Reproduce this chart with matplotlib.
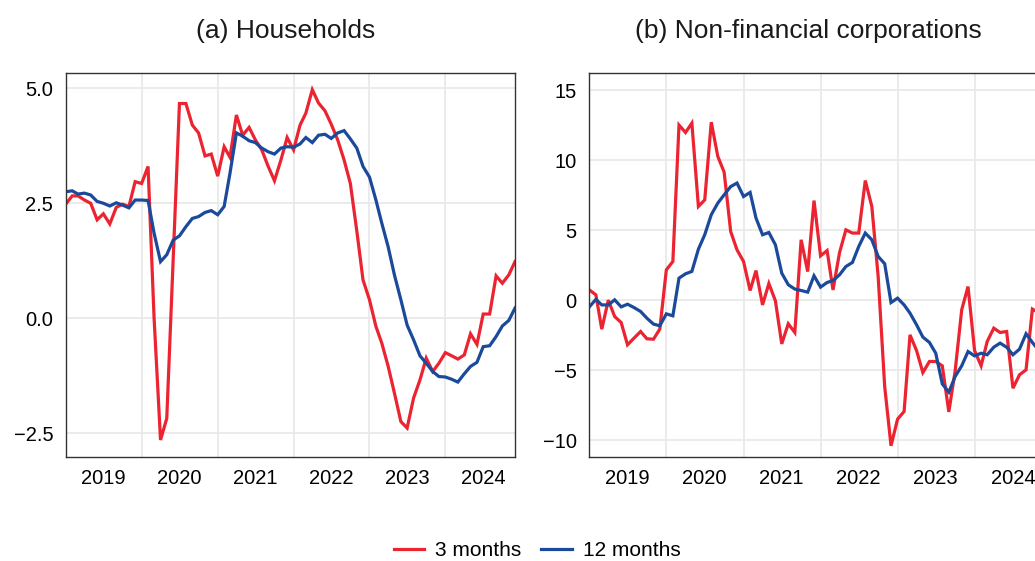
import numpy as np
import pandas as pd
import matplotlib
matplotlib.use("Agg")
import matplotlib.pyplot as plt
import matplotlib.dates as mdates
from matplotlib.ticker import FuncFormatter

plt.rcParams['font.family'] = ['Liberation Sans', 'DejaVu Sans']

# monthly, Jan 2019 - Dec 2024
months = pd.date_range('2019-01-01', periods=72, freq='MS')

hh_3m = [2.48, 2.66, 2.66, 2.57, 2.50, 2.14, 2.27, 2.05, 2.41, 2.48, 2.43, 2.97,
         2.93, 3.30, 0.00, -2.65, -2.18, 1.30, 4.67, 4.67, 4.20, 4.03, 3.53, 3.57,
         3.09, 3.73, 3.50, 4.42, 3.98, 4.15, 3.88, 3.66, 3.30, 2.99, 3.44, 3.93,
         3.66, 4.20, 4.46, 4.97, 4.68, 4.51, 4.22, 3.88, 3.44, 2.93, 1.90, 0.83,
         0.40, -0.18, -0.54, -1.05, -1.63, -2.25, -2.39, -1.74, -1.34, -0.87, -1.16, -0.98,
         -0.75, -0.82, -0.89, -0.80, -0.34, -0.57, 0.09, 0.09, 0.92, 0.76, 0.94, 1.23]
hh_12m = [2.75, 2.77, 2.70, 2.72, 2.68, 2.54, 2.50, 2.44, 2.51, 2.46, 2.40, 2.57,
          2.57, 2.56, 1.85, 1.23, 1.38, 1.70, 1.79, 1.99, 2.17, 2.21, 2.30, 2.34,
          2.25, 2.43, 3.15, 4.03, 3.96, 3.86, 3.82, 3.70, 3.62, 3.57, 3.70, 3.73,
          3.72, 3.79, 3.93, 3.82, 3.98, 4.00, 3.91, 4.03, 4.08, 3.90, 3.70, 3.30,
          3.07, 2.57, 2.07, 1.55, 0.94, 0.40, -0.15, -0.47, -0.82, -0.98, -1.16, -1.27,
          -1.28, -1.33, -1.39, -1.21, -1.05, -0.96, -0.62, -0.60, -0.40, -0.17, -0.05, 0.22]

nfc_3m = [0.73, 0.38, -2.07, 0.00, -1.17, -1.60, -3.19, -2.71, -2.24, -2.76, -2.79, -2.07,
          2.16, 2.76, 12.50, 11.97, 12.64, 6.69, 7.16, 12.71, 10.26, 9.14, 4.90, 3.59,
          2.76, 0.69, 2.11, -0.34, 1.19, -0.05, -3.12, -1.69, -2.31, 4.31, 2.04, 7.11,
          3.16, 3.54, 0.73, 3.40, 5.02, 4.79, 4.79, 8.54, 6.69, 1.69, -6.17, -10.40,
          -8.50, -7.95, -2.48, -3.60, -5.17, -4.38, -4.38, -4.69, -7.98, -5.05, -0.69, 0.97,
          -3.60, -4.69, -2.95, -2.00, -2.31, -2.24, -6.29, -5.33, -4.98, -0.64, -0.90, -1.20]
nfc_12m = [-0.48, 0.05, -0.34, -0.34, 0.02, -0.48, -0.29, -0.53, -0.81, -1.29, -1.71, -1.83,
           -0.98, -1.12, 1.57, 1.88, 2.05, 3.64, 4.67, 6.10, 6.93, 7.52, 8.11, 8.36,
           7.40, 7.69, 5.86, 4.67, 4.83, 3.95, 1.93, 1.10, 0.79, 0.69, 0.57, 1.74,
           0.93, 1.26, 1.40, 1.81, 2.40, 2.69, 3.83, 4.79, 4.31, 3.12, 2.60, -0.17,
           0.14, -0.34, -0.93, -1.76, -2.64, -3.02, -3.79, -5.98, -6.57, -5.45, -4.69, -3.67,
           -3.98, -3.79, -3.90, -3.36, -3.07, -3.36, -3.90, -3.50, -2.40, -3.02, -3.60, -3.40]

titles = ['(a) Households', '(b) Non-financial corporations']
series_names = ['3 months', '12 months']
RED = '#ec2330'
BLUE = '#1b4a9b'

fig = plt.figure(figsize=(10.35, 5.61), dpi=100)
ax1 = fig.add_axes([0.0635, 0.1854, 0.4341, 0.685])
ax2 = fig.add_axes([0.5694, 0.1854, 0.4405, 0.685])

panels = [(ax1, hh_3m, hh_12m, (-3.02, 5.34), [-2.5, 0.0, 2.5, 5.0], '{:.1f}', 0.489),
          (ax2, nfc_3m, nfc_12m, (-11.2, 16.24), [-10, -5, 0, 5, 10, 15], '{:.0f}', 0.48)]

for i, (ax, s3, s12, ylim, yticks, fmt, tx) in enumerate(panels):
    l1, = ax.plot(months, s3, color=RED, lw=2.3, solid_joinstyle='miter')
    l2, = ax.plot(months, s12, color=BLUE, lw=2.3, solid_joinstyle='miter')
    ax.set_xlim(months[0], months[-1])
    ax.set_ylim(*ylim)
    ax.set_yticks(yticks)
    ax.yaxis.set_major_formatter(FuncFormatter(
        lambda v, p, f=fmt: f.format(v).replace('-', '\u2212')))
    ax.xaxis.set_major_locator(mdates.YearLocator())
    ax.xaxis.set_major_formatter(plt.NullFormatter())
    ax.xaxis.set_minor_locator(mdates.MonthLocator(bymonth=7))
    ax.xaxis.set_minor_formatter(mdates.DateFormatter('%Y'))
    ax.tick_params(axis='both', which='both', length=0, labelsize=14.5, pad=9)
    ax.grid(True, which='major', color='#e9e9e9', lw=1.3)
    ax.set_axisbelow(True)
    for sp in ax.spines.values():
        sp.set_color('#333333')
        sp.set_linewidth(1.0)
    ax.set_title(titles[i], fontsize=19, pad=25, color='#1a1a1a', x=tx)

fig.legend([l1, l2], series_names, loc='center', bbox_to_anchor=(0.519, 0.018),
           ncol=2, frameon=False, fontsize=15, handlelength=1.45,
           handletextpad=0.55, columnspacing=0.95)

fig.savefig('out.png', dpi=100)
